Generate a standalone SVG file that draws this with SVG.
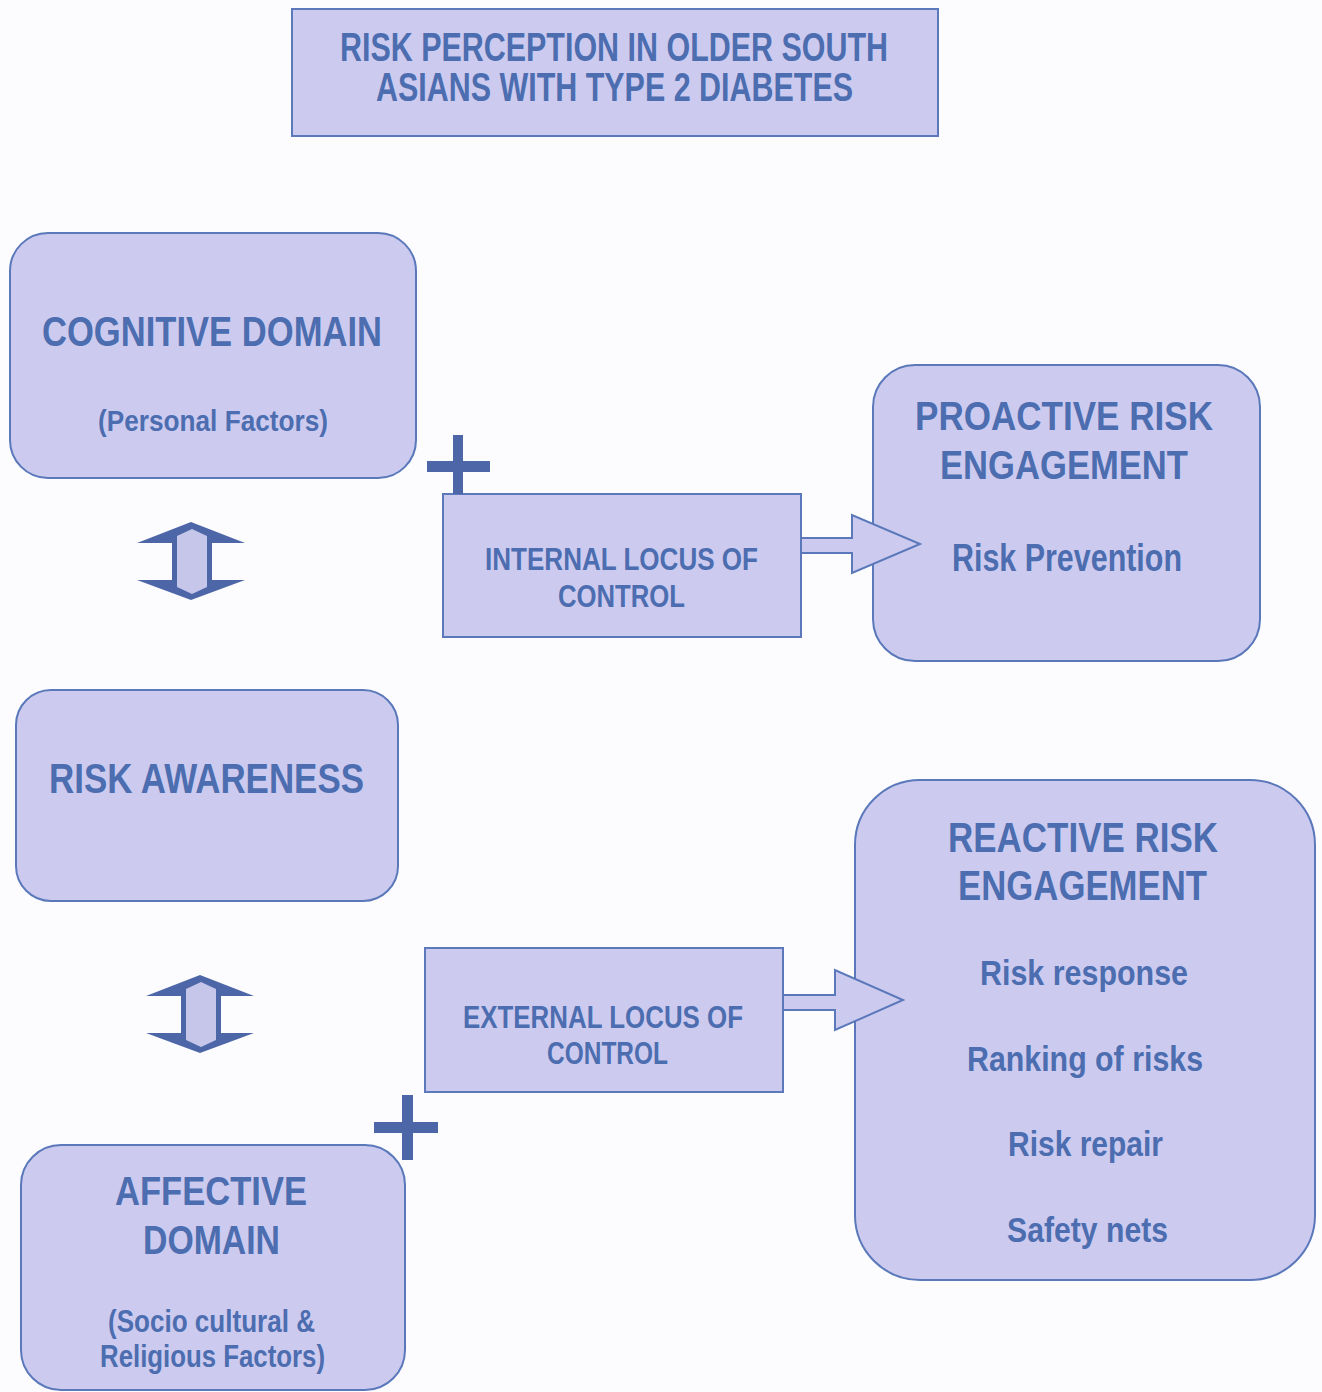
<svg xmlns="http://www.w3.org/2000/svg" width="1322" height="1392" viewBox="0 0 1322 1392">
  <style>
    .box { fill: #cccbef; stroke: #5a78ba; stroke-width: 2; }
    .t { font-family: "Liberation Sans", Arial, sans-serif; font-weight: bold; fill: #4c6daf; text-anchor: middle; }
    .blk { fill: #cccbef; stroke: #5a78ba; stroke-width: 2; stroke-linejoin: miter; }
    .dark { fill: #4d66a8; }
    .light { fill: #c6c5ea; }
  </style>
  <defs>
    <g id="updown">
      <polygon class="dark" points="191,522 245,543 212,543 212,580 245,580 191,600 137,580 172,580 172,543 137,543"/>
      <polygon class="light" points="192,529 207,536 207,587 192,594 177,587 177,536"/>
    </g>
  </defs>
  <rect x="0" y="0" width="1322" height="1392" fill="#fcfcfe"/>

  <g id="title">
    <rect class="box" x="292" y="9" width="646" height="127"/>
    <text class="t" x="614" y="61" font-size="40" textLength="548" lengthAdjust="spacingAndGlyphs">RISK PERCEPTION IN OLDER SOUTH</text>
    <text class="t" x="614.5" y="101" font-size="40" textLength="477" lengthAdjust="spacingAndGlyphs">ASIANS WITH TYPE 2 DIABETES</text>
  </g>

  <g id="cognitive">
    <rect class="box" x="10" y="233" width="406" height="245" rx="38"/>
    <text class="t" x="212" y="346" font-size="43" textLength="340" lengthAdjust="spacingAndGlyphs">COGNITIVE DOMAIN</text>
    <text class="t" x="213" y="431" font-size="30" textLength="230" lengthAdjust="spacingAndGlyphs">(Personal Factors)</text>
  </g>

  <g id="internal">
    <rect class="box" x="443" y="494" width="358" height="143"/>
    <text class="t" x="621.5" y="570" font-size="32" textLength="273" lengthAdjust="spacingAndGlyphs">INTERNAL LOCUS OF</text>
    <text class="t" x="621.5" y="607" font-size="32" textLength="127" lengthAdjust="spacingAndGlyphs">CONTROL</text>
  </g>

  <g id="proactive">
    <rect class="box" x="873" y="365" width="387" height="296" rx="42"/>
    <text class="t" x="1064" y="430" font-size="41" textLength="298" lengthAdjust="spacingAndGlyphs">PROACTIVE RISK</text>
    <text class="t" x="1064" y="479" font-size="41" textLength="248" lengthAdjust="spacingAndGlyphs">ENGAGEMENT</text>
    <text class="t" x="1067" y="571" font-size="38" textLength="230" lengthAdjust="spacingAndGlyphs">Risk Prevention</text>
  </g>

  <g id="awareness">
    <rect class="box" x="16" y="690" width="382" height="211" rx="35"/>
    <text class="t" x="206.5" y="793" font-size="43" textLength="315" lengthAdjust="spacingAndGlyphs">RISK AWARENESS</text>
  </g>

  <g id="external">
    <rect class="box" x="425" y="948" width="358" height="144"/>
    <text class="t" x="603" y="1028" font-size="32" textLength="280" lengthAdjust="spacingAndGlyphs">EXTERNAL LOCUS OF</text>
    <text class="t" x="607.5" y="1064" font-size="32" textLength="121" lengthAdjust="spacingAndGlyphs">CONTROL</text>
  </g>

  <g id="reactive">
    <rect class="box" x="855" y="780" width="460" height="500" rx="65"/>
    <text class="t" x="1083" y="852" font-size="42" textLength="270" lengthAdjust="spacingAndGlyphs">REACTIVE RISK</text>
    <text class="t" x="1082.5" y="900" font-size="42" textLength="249" lengthAdjust="spacingAndGlyphs">ENGAGEMENT</text>
    <text class="t" x="1084" y="985" font-size="35" textLength="208" lengthAdjust="spacingAndGlyphs">Risk response</text>
    <text class="t" x="1085" y="1071" font-size="35" textLength="236" lengthAdjust="spacingAndGlyphs">Ranking of risks</text>
    <text class="t" x="1085.5" y="1156" font-size="35" textLength="155" lengthAdjust="spacingAndGlyphs">Risk repair</text>
    <text class="t" x="1087.5" y="1242" font-size="35" textLength="161" lengthAdjust="spacingAndGlyphs">Safety nets</text>
  </g>

  <g id="affective">
    <rect class="box" x="21" y="1145" width="384" height="245" rx="40"/>
    <text class="t" x="211" y="1205" font-size="41" textLength="192" lengthAdjust="spacingAndGlyphs">AFFECTIVE</text>
    <text class="t" x="211.5" y="1254" font-size="41" textLength="137" lengthAdjust="spacingAndGlyphs">DOMAIN</text>
    <text class="t" x="211.5" y="1332" font-size="31" textLength="207" lengthAdjust="spacingAndGlyphs">(Socio cultural &amp;</text>
    <text class="t" x="212.5" y="1367" font-size="31" textLength="225" lengthAdjust="spacingAndGlyphs">Religious Factors)</text>
  </g>

  <g id="connectors">
    <polygon class="blk" points="801,538 852,538 852,515 920,544 852,573 852,553 801,553"/>
    <polygon class="blk" points="783,995 835,995 835,970 903,1000 835,1030 835,1010 783,1010"/>
    <use href="#updown"/>
    <use href="#updown" transform="translate(9,453)"/>
  </g>

  <g id="plus-signs">
    <rect class="dark" x="453" y="435" width="10" height="59"/>
    <rect class="dark" x="427" y="461" width="63" height="11"/>
    <rect class="dark" x="402" y="1095" width="11" height="65"/>
    <rect class="dark" x="374" y="1122" width="64" height="11"/>
  </g>
</svg>
